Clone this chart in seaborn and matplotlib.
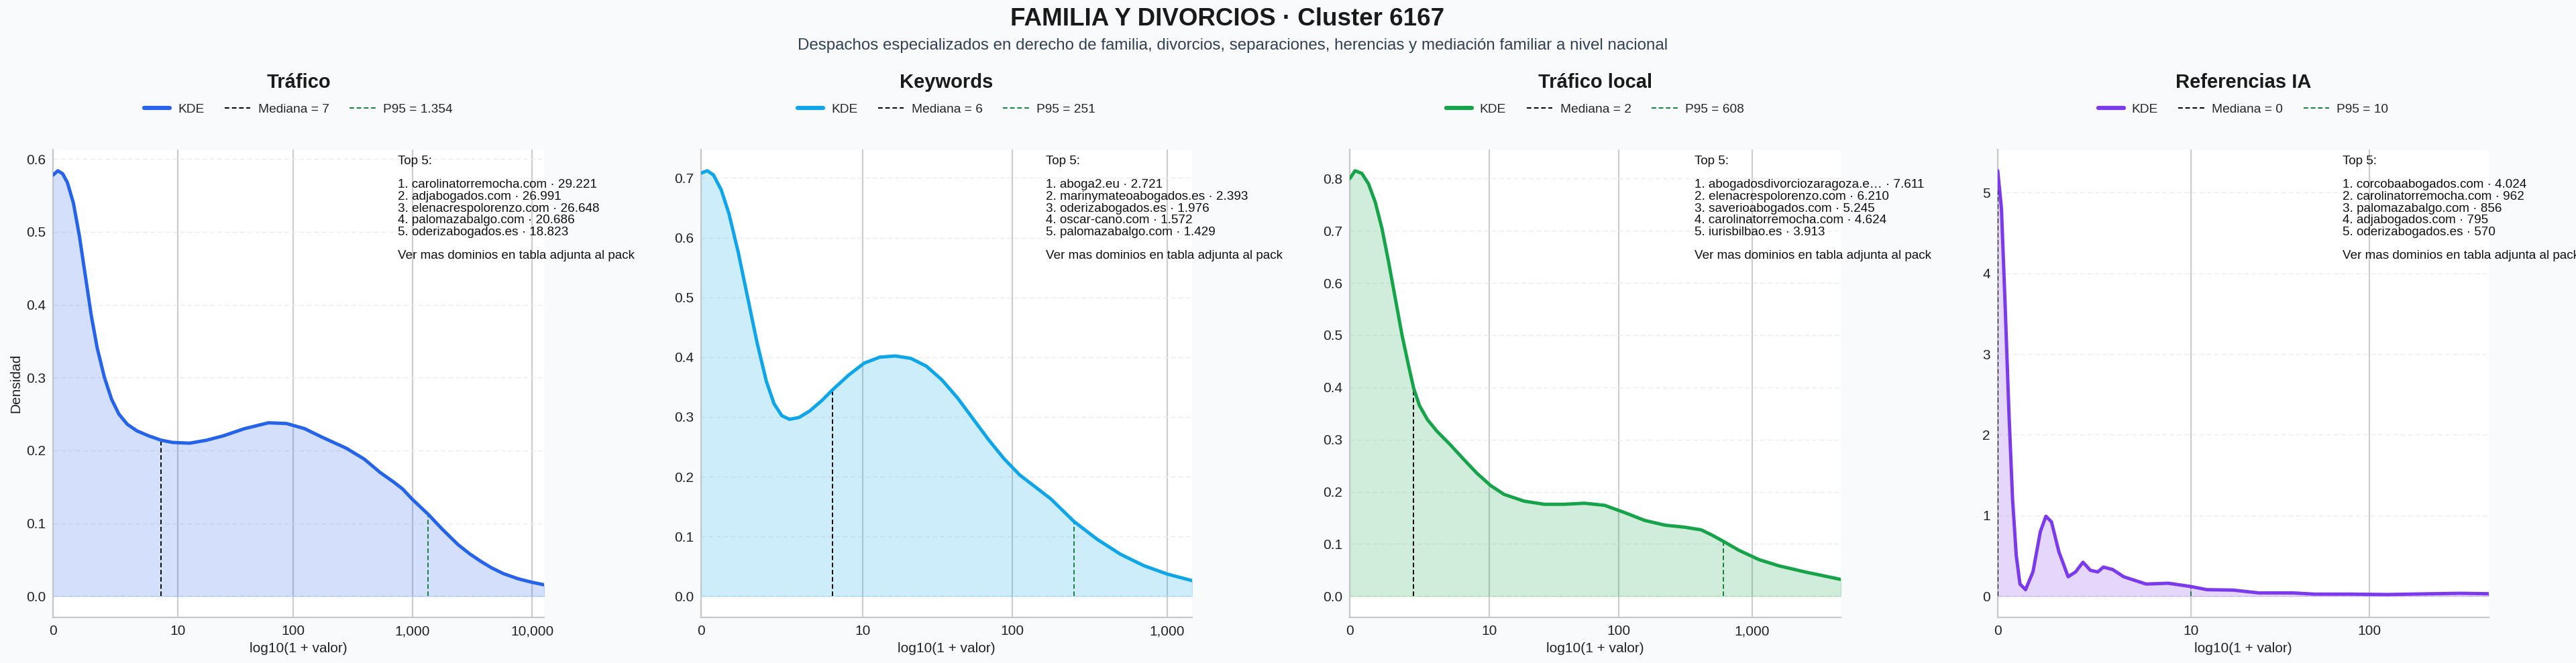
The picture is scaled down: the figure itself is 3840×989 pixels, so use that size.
import numpy as np
import matplotlib
matplotlib.use("Agg")
import matplotlib.pyplot as plt
import seaborn as sns
from matplotlib.lines import Line2D

# ---------------- data ----------------
titles = ["Tráfico", "Keywords", "Tráfico local", "Referencias IA"]
colors = ["#2563eb", "#0ea5e9", "#16a34a", "#7c3aed"]
medians = [7, 6, 2, 0]
p95s = [1354, 251, 608, 10]
p95_labels = ["1.354", "251", "608", "10"]
x_max_u = [4.10, 3.16, 3.66, 2.65]

traf_u = [0.00, 0.04, 0.08, 0.12, 0.17, 0.22, 0.27, 0.32, 0.37, 0.43, 0.49, 0.55, 0.62, 0.70,
          0.80, 0.905, 1.00, 1.14, 1.28, 1.42, 1.60, 1.80, 1.95, 2.10, 2.25, 2.45, 2.60, 2.73,
          2.85, 2.92, 3.00, 3.135, 3.25, 3.38, 3.48, 3.57, 3.66, 3.76, 3.88, 4.00, 4.10]
traf_d = [0.578, 0.584, 0.580, 0.568, 0.540, 0.495, 0.440, 0.385, 0.340, 0.300, 0.270, 0.250,
          0.236, 0.227, 0.220, 0.214, 0.211, 0.210, 0.214, 0.220, 0.230, 0.238, 0.237, 0.230,
          0.218, 0.203, 0.188, 0.170, 0.156, 0.147, 0.133, 0.112, 0.092, 0.071, 0.058, 0.048,
          0.039, 0.031, 0.024, 0.019, 0.0156]

kw_u = [0.00, 0.04, 0.08, 0.13, 0.18, 0.24, 0.30, 0.36, 0.42, 0.47, 0.52, 0.57, 0.63, 0.70,
        0.78, 0.845, 0.95, 1.05, 1.15, 1.25, 1.35, 1.45, 1.55, 1.65, 1.75, 1.85, 1.95, 2.05,
        2.15, 2.25, 2.40, 2.55, 2.70, 2.85, 3.00, 3.16]
kw_d = [0.708, 0.712, 0.705, 0.680, 0.640, 0.575, 0.500, 0.425, 0.360, 0.322, 0.302, 0.296,
        0.299, 0.310, 0.328, 0.345, 0.370, 0.390, 0.400, 0.402, 0.398, 0.385, 0.362, 0.332,
        0.297, 0.262, 0.230, 0.203, 0.183, 0.163, 0.125, 0.095, 0.070, 0.051, 0.037, 0.026]

loc_u = [0.00, 0.04, 0.09, 0.14, 0.19, 0.24, 0.29, 0.34, 0.39, 0.44, 0.477, 0.52, 0.58, 0.65,
         0.75, 0.85, 0.95, 1.05, 1.15, 1.30, 1.45, 1.60, 1.75, 1.90, 2.05, 2.20, 2.35, 2.50,
         2.62, 2.70, 2.785, 2.90, 3.05, 3.20, 3.40, 3.55, 3.66]
loc_d = [0.800, 0.815, 0.810, 0.790, 0.755, 0.705, 0.640, 0.570, 0.500, 0.440, 0.398, 0.365,
         0.338, 0.316, 0.290, 0.262, 0.235, 0.212, 0.195, 0.182, 0.176, 0.176, 0.178, 0.174,
         0.160, 0.145, 0.136, 0.132, 0.127, 0.117, 0.105, 0.088, 0.070, 0.058, 0.046, 0.038,
         0.032]

ia_u = [0.00, 0.02, 0.04, 0.06, 0.08, 0.10, 0.12, 0.15, 0.19, 0.23, 0.26, 0.29, 0.33, 0.38,
        0.42, 0.46, 0.50, 0.54, 0.57, 0.62, 0.68, 0.80, 0.92, 1.04, 1.13, 1.27, 1.41, 1.59,
        1.71, 1.90, 2.10, 2.35, 2.50, 2.65]
ia_d = [5.27, 4.80, 3.60, 2.30, 1.20, 0.50, 0.15, 0.08, 0.30, 0.80, 0.99, 0.92, 0.55, 0.24,
        0.30, 0.42, 0.32, 0.30, 0.36, 0.33, 0.24, 0.15, 0.16, 0.12, 0.08, 0.075, 0.04, 0.04,
        0.025, 0.025, 0.02, 0.03, 0.035, 0.03]

curves_u = [traf_u, kw_u, loc_u, ia_u]
curves_d = [traf_d, kw_d, loc_d, ia_d]

tick_values = [0, 10, 100, 1000, 10000]
tick_labels = ["0", "10", "100", "1,000", "10,000"]

top5 = [
    ["carolinatorremocha.com · 29.221", "adjabogados.com · 26.991", "elenacrespolorenzo.com · 26.648",
     "palomazabalgo.com · 20.686", "oderizabogados.es · 18.823"],
    ["aboga2.eu · 2.721", "marinymateoabogados.es · 2.393", "oderizabogados.es · 1.976",
     "oscar-cano.com · 1.572", "palomazabalgo.com · 1.429"],
    ["abogadosdivorciozaragoza.e… · 7.611", "elenacrespolorenzo.com · 6.210", "saverioabogados.com · 5.245",
     "carolinatorremocha.com · 4.624", "iurisbilbao.es · 3.913"],
    ["corcobaabogados.com · 4.024", "carolinatorremocha.com · 962", "palomazabalgo.com · 856",
     "adjabogados.com · 795", "oderizabogados.es · 570"],
]
footer_note = "Ver mas dominios en tabla adjunta al pack"

suptitle = "FAMILIA Y DIVORCIOS · Cluster 6167"
subtitle = "Despachos especializados en derecho de familia, divorcios, separaciones, herencias y mediación familiar a nivel nacional"

# ---------------- style ----------------
sns.set_theme(style="whitegrid")
plt.rcParams["font.family"] = ["Liberation Sans", "DejaVu Sans"]
BG = "#f8fafc"

W, H = 3840, 989
fig = plt.figure(figsize=(W / 100, H / 100), dpi=100, facecolor=BG)

ax_lefts = [79, 1045, 2012, 2978]
ax_w, ax_top, ax_bot = 732, 223, 921

for i in range(4):
    ax = fig.add_axes([ax_lefts[i] / W, (H - ax_bot) / H, ax_w / W, (ax_bot - ax_top) / H])
    ax.set_facecolor("white")
    u = np.array(curves_u[i])
    d = np.array(curves_d[i])
    col = colors[i]

    ax.fill_between(u, 0, d, color=col, alpha=0.2, lw=1.0)
    sns.lineplot(x=u, y=d, ax=ax, color=col, lw=3.6, estimator=None, sort=False, zorder=4,
                 solid_joinstyle="round", solid_capstyle="round")

    mu = np.log10(1 + medians[i])
    pu = np.log10(1 + p95s[i])
    ax.vlines(mu, 0, np.interp(mu, u, d), colors="black", linestyles=(0, (3.5, 2)), lw=1.4, zorder=3)
    ax.vlines(pu, 0, np.interp(pu, u, d), colors="#15803d", linestyles=(0, (3.5, 2)), lw=1.4, zorder=3)

    ax.set_xlim(0, x_max_u[i])
    ax.margins(y=0.05)
    tv = [np.log10(1 + t) for t in tick_values if np.log10(1 + t) <= x_max_u[i]]
    tl = [l for t, l in zip(tick_values, tick_labels) if np.log10(1 + t) <= x_max_u[i]]
    ax.set_xticks(tv)
    ax.set_xticklabels(tl)

    ax.grid(axis="x", ls="-", color="#cdcdcd", lw=1.6)
    ax.grid(axis="y", ls=(0, (5, 3)), color="#ececec", lw=1.0)
    for s in ["top", "right"]:
        ax.spines[s].set_visible(False)
    for s in ["left", "bottom"]:
        ax.spines[s].set_color("#c8c8c8")
        ax.spines[s].set_linewidth(1.6)
    ax.tick_params(axis="both", labelsize=15, colors="#222222", length=0, pad=8)

    ax.set_xlabel("log10(1 + valor)", fontsize=15, color="#222222", labelpad=5)
    ax.set_ylabel("Densidad" if i == 0 else "", fontsize=15, color="#222222")

    ax.text(0.5, 1.0 + 100 / 698, titles[i], transform=ax.transAxes, ha="center", va="center",
            fontsize=21, fontweight="bold", color="#1a1a1a")

    handles = [
        Line2D([0], [0], color=col, lw=4.5),
        Line2D([0], [0], color="black", lw=1.4, ls=(0, (3.5, 2))),
        Line2D([0], [0], color="#15803d", lw=1.4, ls=(0, (3.5, 2))),
    ]
    labels = ["KDE", f"Mediana = {medians[i]}", f"P95 = {p95_labels[i]}"]
    ax.legend(handles, labels, loc="center", bbox_to_anchor=(0.5, 1.0 + 60 / 698), ncol=3,
              frameon=False, fontsize=13.8, handlelength=2.0, handletextpad=0.6, columnspacing=1.6)

    txt = "Top 5:\n\n" + "\n".join(f"{k + 1}. {s}" for k, s in enumerate(top5[i])) + "\n\n" + footer_note
    ax.text(0.702, 0.987, txt, transform=ax.transAxes, ha="left", va="top", fontsize=13.6,
            color="#111111", linespacing=1.05, zorder=6)

fig.text(1830 / W, 1 - 28 / H, suptitle, ha="center", va="center", fontsize=26.5,
         fontweight="bold", color="#1a1a1a")
fig.text(1838 / W, 1 - 68 / H, subtitle, ha="center", va="center", fontsize=17.4, color="#334155")

fig.savefig("out.png", dpi=100, facecolor=BG)
